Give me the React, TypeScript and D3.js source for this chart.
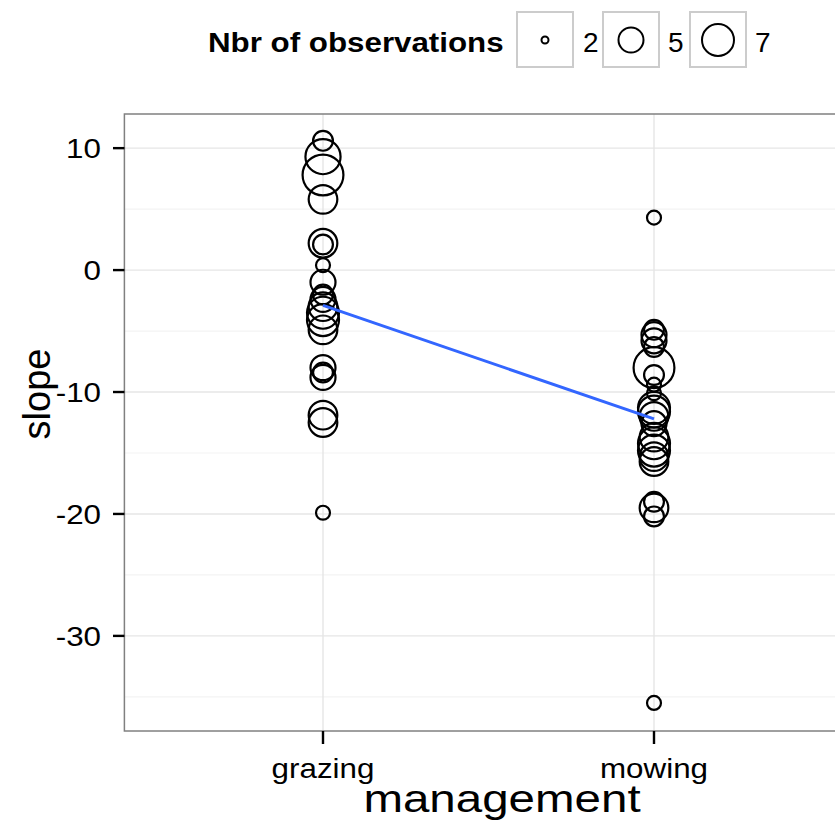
import React from "react";
import * as d3 from "d3";

const categories = ["grazing", "mowing"];
const grazingSlope = [10.6, 9.3, 7.8, 5.8, 2.2, 2.1, 0.4, -1.0, -2.0, -2.4, -3.0, -3.5, -4.1, -4.9, -8.0, -8.4, -8.8, -11.9, -12.5, -19.9];
const grazingCount = [4, 8, 10, 6, 6, 4, 3, 5, 4, 5, 6, 7, 7, 6, 5, 4, 5, 6, 6, 3];
const mowingSlope = [4.3, -4.9, -5.3, -5.8, -6.3, -8.0, -8.6, -9.4, -10.1, -11.3, -11.6, -12.0, -12.6, -13.7, -14.2, -14.8, -15.3, -15.7, -19.0, -19.5, -20.2, -35.5];
const mowingCount = [3, 4, 5, 5, 4, 10, 4, 3, 3, 7, 7, 6, 5, 6, 7, 7, 6, 6, 4, 6, 4, 3];
const meanSlope = [-2.9, -12.2];
const yTicks = [10, 0, -10, -20, -30];
const yMinor = [5, -5, -15, -25, -35];
const legendBreaks = [2, 5, 7];

const W = 835;
const H = 825;
const FONT = "'Liberation Sans', Arial, Helvetica, sans-serif";

export default function App() {
  const x = d3.scalePoint<string>().domain(categories).range([323, 654]);
  const step = 654 - 323;
  const panelL = 323 - 0.6 * step;
  const panelR = 654 + 0.6 * step;
  const panelT = 114;
  const panelB = 731;
  const y = d3.scaleLinear().domain([-37.8, 12.8]).range([panelB, panelT]);
  const r = d3.scaleSqrt().domain([2, 5, 7]).range([3.5, 12.5, 16]);

  const points = [
    ...grazingSlope.map((v, i) => ({ cat: "grazing", v, n: grazingCount[i] })),
    ...mowingSlope.map((v, i) => ({ cat: "mowing", v, n: mowingCount[i] })),
  ];
  const line = d3
    .line<number>()
    .x((_, i) => x(categories[i]) as number)
    .y((d) => y(d));

  const legendBoxX = [517, 603, 690];
  const legendLabelX = [583, 668, 755];

  return (
    <svg width={W} height={H} style={{ position: "absolute", left: 0, top: 0, background: "#fff" }} fontFamily={FONT}>
      <rect x={0} y={0} width={W} height={H} fill="#fff" />
      <rect x={panelL} y={panelT} width={panelR - panelL} height={panelB - panelT} fill="#fff" />
      {yMinor.map((t) => (
        <line key={"mn" + t} x1={panelL} x2={panelR} y1={y(t)} y2={y(t)} stroke="#f3f3f3" strokeWidth={1.2} />
      ))}
      {yTicks.map((t) => (
        <line key={"mj" + t} x1={panelL} x2={panelR} y1={y(t)} y2={y(t)} stroke="#e6e6e6" strokeWidth={1.4} />
      ))}
      {categories.map((c) => (
        <line key={"vg" + c} x1={x(c)} x2={x(c)} y1={panelT} y2={panelB} stroke="#e6e6e6" strokeWidth={1.4} />
      ))}
      {points.map((p, i) => (
        <circle key={i} cx={x(p.cat)} cy={y(p.v)} r={r(p.n)} fill="none" stroke="#000" strokeWidth={2.2} />
      ))}
      <path d={line(meanSlope) || ""} fill="none" stroke="#3366FF" strokeWidth={3} />
      <rect x={panelL} y={panelT} width={panelR - panelL} height={panelB - panelT} fill="none" stroke="#808080" strokeWidth={1.5} />
      {yTicks.map((t) => (
        <g key={"yt" + t}>
          <line x1={113} x2={panelL} y1={y(t)} y2={y(t)} stroke="#000" strokeWidth={2.4} />
          <text transform={`translate(101,${y(t) + 10}) scale(1.12,1)`} textAnchor="end" fontSize={28} fill="#000">
            {t}
          </text>
        </g>
      ))}
      {categories.map((c) => (
        <g key={"xt" + c}>
          <line x1={x(c)} x2={x(c)} y1={panelB} y2={panelB + 13} stroke="#000" strokeWidth={2.4} />
          <text transform={`translate(${x(c)},778) scale(1.12,1)`} textAnchor="middle" fontSize={28} fill="#000">
            {c}
          </text>
        </g>
      ))}
      <text transform={`translate(502,812) scale(1.25,1)`} textAnchor="middle" fontSize={38} fill="#000">
        management
      </text>
      <text transform={`translate(50,394) rotate(-90)`} textAnchor="middle" fontSize={38} fill="#000">
        slope
      </text>
      <text transform={`translate(208,52) scale(1.16,1)`} fontSize={27} fontWeight="bold" fill="#000">
        Nbr of observations
      </text>
      {legendBreaks.map((b, i) => (
        <g key={"lg" + b}>
          <rect x={legendBoxX[i]} y={12} width={56} height={55} fill="#fff" stroke="#cccccc" strokeWidth={2} />
          <circle cx={legendBoxX[i] + 28} cy={40} r={r(b)} fill="none" stroke="#000" strokeWidth={2} />
          <text x={legendLabelX[i]} y={52} fontSize={28} fill="#000">
            {b}
          </text>
        </g>
      ))}
    </svg>
  );
}
